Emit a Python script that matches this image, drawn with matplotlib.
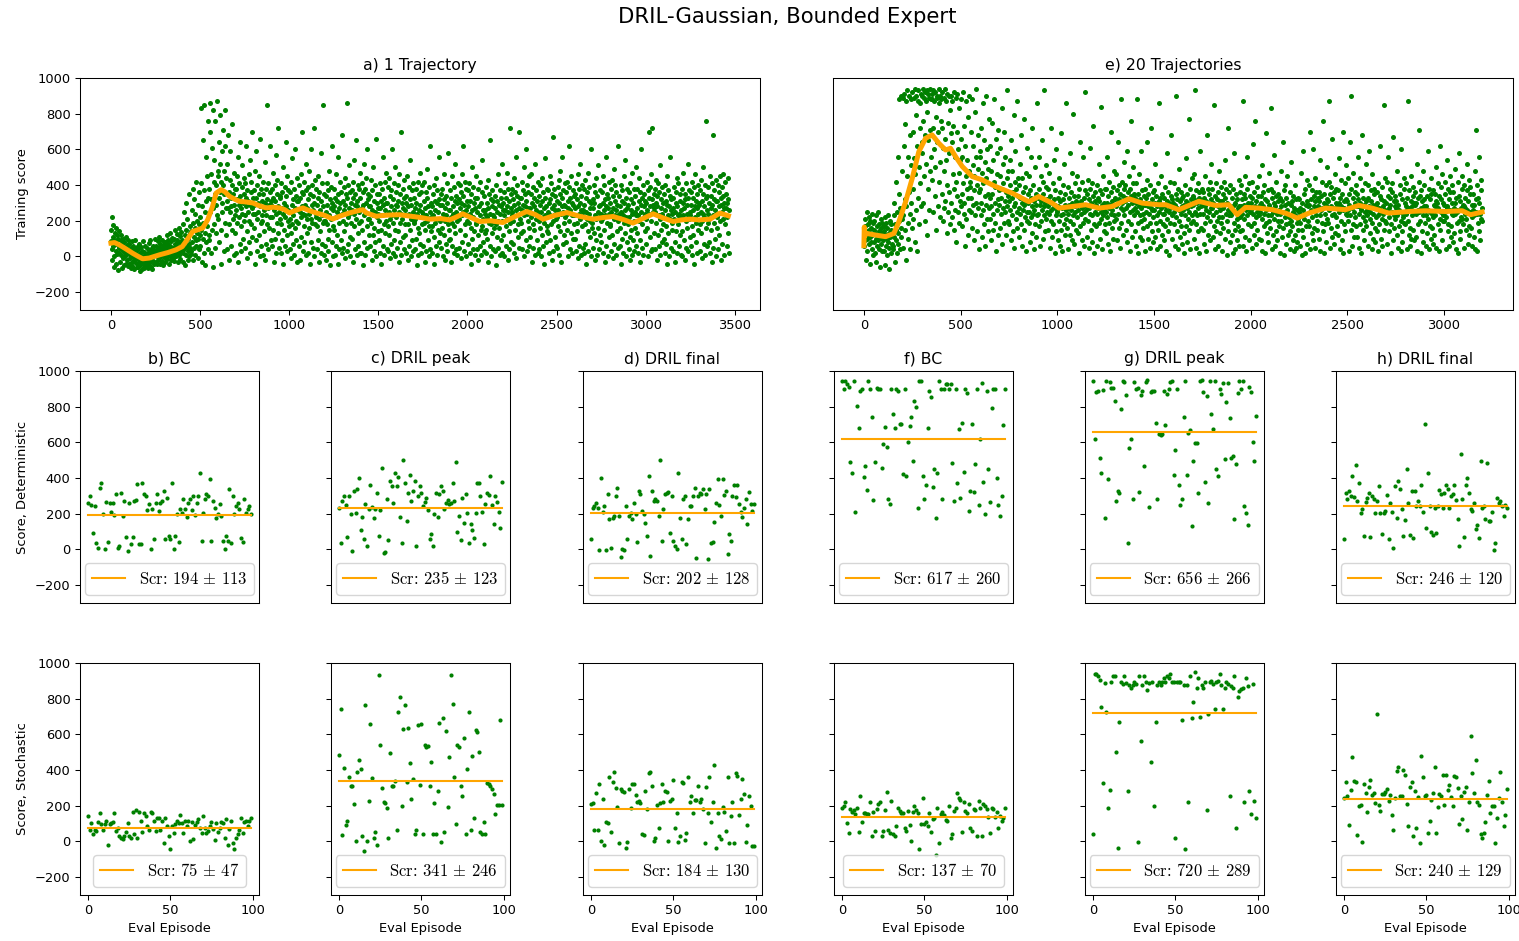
import numpy as np
import matplotlib
matplotlib.use("Agg")
import matplotlib.pyplot as plt

plt.rcParams["mathtext.fontset"] = "cm"
plt.rcParams["font.family"] = ["DejaVu Sans"]

SUPTITLE = "DRIL-Gaussian, Bounded Expert"
TRAIN_TITLES = ["a) 1 Trajectory", "e) 20 Trajectories"]
EVAL_TITLES = ["b) BC", "c) DRIL peak", "d) DRIL final", "f) BC", "g) DRIL peak", "h) DRIL final"]
TRAIN_YLABEL = "Training score"
DET_YLABEL = "Score, Deterministic"
STO_YLABEL = "Score, Stochastic"
EVAL_XLABEL = "Eval Episode"
TRAIN_XTICKS = [list(range(0, 3501, 500)), list(range(0, 3001, 500))]
EVAL_XTICKS = [0, 50, 100]
YTICKS = list(range(-200, 1001, 200))

LOG_EVERY = 2  # training score is logged every second episode

# training scores, 1 expert trajectory (one row = 50 episodes)
train_1traj = [
    85, 150, 40, 220, -20, 110, 60, 175, 5, 95, -60, 130, 70, 30, 160, -40, 90, 120, 15, 65, -75, 100, 45, 140, 20,
    60, -30, 95, 10, 120, -65, 35, 75, -10, 50, 100, -50, 25, 80, 0, 55, -40, 110, 30, -20, 65, 15, 90, -55, 40,
    20, -45, 70, -10, 35, -65, 50, 5, -30, 85, -55, 25, 0, 60, -20, 40, -70, 15, 95, -35, 30, -5, 55, -60, 10,
    -15, 40, -60, 10, -35, 70, -80, 20, -50, 5, 55, -25, -70, 30, -10, 85, -45, 0, -65, 25, -30, 60, -55, 15, -20,
    5, -40, 50, -65, 20, -15, 75, -50, 35, -30, 0, 90, -60, 25, -5, 45, -70, 10, 60, -25, 30, -45, 15, 100, -35,
    25, -30, 60, 0, 40, -45, 85, 15, -20, 50, 110, -10, 30, 70, -40, 20, 5, 95, -25, 45, 10, -50, 65, 35, -5,
    40, 5, 80, -30, 55, 20, 120, -15, 35, 70, 10, 95, -40, 45, 25, 130, 0, 60, -20, 85, 30, 15, 105, -10, 50,
    50, 15, 100, -25, 70, 35, 150, 0, 60, 90, 20, 125, -30, 45, 80, 160, 10, 55, 30, 115, -15, 75, 40, 135, 25,
    90, 20, 180, -30, 60, 250, 40, 120, -50, 80, 300, 10, 150, 55, 210, -20, 100, 30, 350, 70, 5, 170, 45, 130, 15,
    140, 30, 260, 80, 380, -20, 190, 110, 50, 320, 160, 10, 240, 90, 420, 60, 200, 130, -10, 290, 100, 180, 40, 360, 120,
    220, 60, 410, 150, 830, -30, 280, 100, 650, 190, 20, 370, 850, 130, 250, -50, 560, 310, 80, 450, 170, 760, 40, 330, 120,
    380, 90, 700, 250, 860, 20, 460, 320, 150, 610, 270, 820, -60, 420, 180, 540, 350, 50, 760, 290, 400, 130, 870, 230, 480,
    450, 210, 640, 330, 80, 790, 360, 520, 150, 420, -40, 590, 300, 250, 710, 400, 30, 480, 350, 620, 190, 820, 270, 440, 120,
    310, 40, 520, 270, 680, 180, 360, -20, 430, 250, 590, 330, 60, 280, 400, 150, 740, 210, 350, 10, 470, 290, 230, 380, 130,
    260, 380, 20, 450, 190, 320, 560, -30, 290, 220, 410, 70, 340, 640, 170, 270, 30, 390, 240, 510, 300, 100, 350, 200, 440,
    230, 410, 50, 330, 280, 620, 140, 370, -10, 250, 310, 460, 80, 200, 540, 290, 20, 360, 180, 420, 270, 700, 110, 330, 240,
    370, 160, 290, -40, 480, 240, 330, 90, 590, 210, 400, 30, 300, 250, 450, 120, 350, 660, 0, 280, 190, 380, 60, 310, 230,
    200, 350, 10, 420, 260, 140, 530, 300, -20, 380, 230, 70, 320, 850, 180, 270, 40, 410, 290, 160, 360, 620, 220, 90, 310,
    290, 60, 380, 220, 470, 150, 330, -30, 260, 400, 100, 310, 570, 240, 20, 350, 190, 430, 280, 130, 720, 250, 50, 340, 210,
    330, 180, 20, 410, 270, 90, 360, 240, 500, -40, 300, 150, 390, 220, 60, 640, 280, 340, 120, 30, 450, 260, 200, 370, 170,
    250, 40, 360, 210, 130, 420, -10, 290, 180, 550, 320, 70, 230, 380, 10, 270, 160, 600, 340, 90, 200, 310, -30, 440, 260,
    310, 190, 60, 400, 250, 330, -20, 460, 220, 110, 360, 280, 700, 30, 240, 350, 170, 420, 80, 290, 230, 520, 10, 370, 210,
    270, 130, 390, 20, 320, 240, 480, 160, -40, 350, 210, 600, 80, 290, 400, 190, 50, 340, 260, 720, 0, 300, 180, 430, 220,
    240, 380, 40, 290, 170, 450, 90, 330, 210, -30, 360, 260, 140, 580, 20, 310, 230, 410, 70, 280, 190, 850, 10, 350, 200,
    200, 60, 340, 250, -20, 410, 180, 290, 100, 370, 30, 230, 480, 150, 320, -50, 270, 210, 390, 80, 300, 620, 0, 260, 170,
    280, 150, 380, 10, 330, 220, 460, 60, 250, 310, 120, 560, -40, 350, 190, 270, 40, 420, 230, 300, 90, 360, 680, 20, 240,
    310, 200, 50, 390, 260, 140, 440, -10, 290, 350, 180, 860, 30, 330, 220, 400, 70, 270, 240, 510, 110, 360, 0, 300, 190,
    260, 370, 100, 330, -30, 420, 240, 170, 540, 290, 40, 350, 210, 650, 10, 310, 280, 130, 400, 60, 250, 380, 190, 470, 20,
    330, 200, 20, 410, 270, 150, 360, -50, 290, 520, 230, 80, 380, 250, 10, 440, 300, 170, 600, 50, 320, 210, 350, 120, 280,
    210, 340, 60, 280, 190, 430, -20, 260, 370, 120, 230, 500, 30, 310, 160, 400, 80, 250, 660, 0, 300, 220, 350, 140, 270,
    240, 90, 350, 200, 20, 410, 270, 150, 310, -40, 380, 230, 560, 60, 290, 180, 330, 10, 260, 420, 130, 300, 200, 470, 40,
    300, 170, 30, 390, 250, 120, 440, 210, -10, 340, 280, 70, 370, 230, 600, 20, 320, 190, 410, 90, 260, 150, 500, 0, 290,
    220, 360, 50, 280, 400, 140, 310, -30, 250, 460, 190, 80, 350, 240, 700, 10, 300, 210, 380, 110, 270, 330, 40, 430, 180,
    260, 120, 340, 20, 300, 230, 450, -20, 280, 180, 390, 60, 240, 320, 150, 540, 0, 290, 210, 370, 90, 250, 410, 30, 200,
    190, 330, 40, 270, 210, 380, 100, 300, -50, 240, 420, 160, 10, 350, 260, 130, 470, 70, 290, 220, 360, 20, 250, 180, 400,
    240, 60, 310, 190, 420, -30, 270, 150, 360, 230, 30, 490, 200, 330, 90, 280, 0, 390, 170, 250, 620, 40, 300, 140, 220,
    280, 170, 20, 350, 230, 110, 400, -40, 260, 310, 190, 60, 440, 210, 300, 10, 370, 150, 250, 560, 80, 320, 200, 130, 290,
    210, 350, 50, 290, 160, 380, 0, 240, 320, 120, 460, -20, 270, 200, 340, 70, 230, 410, 30, 300, 180, 580, 90, 260, 150,
    260, 100, 370, 220, -30, 330, 190, 450, 60, 280, 240, 20, 390, 170, 310, 130, 520, 40, 250, 340, 200, 10, 300, 230, 410,
    320, 210, 50, 400, 270, 150, 360, -10, 300, 460, 230, 80, 340, 250, 620, 30, 290, 180, 420, 120, 380, 260, 0, 310, 200,
    230, 370, 70, 280, 190, 410, 20, 310, 240, -40, 350, 160, 500, 100, 260, 220, 390, 40, 300, 140, 330, 10, 270, 450, 180,
    190, 40, 330, 250, 120, 380, -20, 280, 200, 60, 420, 230, 150, 300, 10, 360, 170, 540, 80, 260, 210, 340, 30, 240, 130,
    260, 150, 390, 20, 300, 220, 100, 430, -30, 270, 190, 350, 60, 240, 650, 0, 320, 180, 280, 130, 370, 40, 230, 310, 160,
    220, 340, 30, 270, 180, 400, -50, 250, 310, 110, 200, 460, 50, 290, 160, 370, 10, 240, 330, 90, 280, 200, 520, 20, 260,
    300, 120, 360, 230, 0, 410, 260, 170, 330, 60, 280, 210, 470, -20, 250, 380, 140, 310, 40, 720, 190, 270, 350, 80, 230,
    250, 380, 70, 320, 200, 440, 20, 290, 360, 150, 260, 560, -10, 340, 230, 400, 110, 300, 180, 700, 50, 270, 330, 210, 130,
    330, 190, 420, 260, 40, 370, 290, 140, 500, 230, 0, 350, 280, 600, 90, 310, 240, 400, 30, 270, 360, 200, 160, 450, 60,
    270, 110, 350, 220, 460, -30, 300, 240, 180, 390, 50, 280, 330, 150, 520, 10, 260, 210, 370, 90, 310, 230, 420, 20, 250,
    200, 340, 40, 290, 160, 400, 0, 250, 310, 120, 440, 220, 60, 360, 190, 270, -40, 330, 230, 550, 80, 280, 170, 380, 140,
    250, 130, 370, 20, 300, 240, 450, 90, 320, 180, 410, -20, 270, 350, 200, 670, 30, 290, 230, 380, 110, 260, 340, 60, 210,
    310, 220, 50, 390, 260, 170, 430, 10, 300, 350, 140, 480, 240, -30, 330, 280, 560, 70, 250, 370, 190, 290, 120, 410, 220,
    280, 360, 80, 240, 420, 150, 310, 0, 270, 390, 200, 620, 40, 330, 260, 130, 450, 20, 300, 230, 370, 100, 290, 340, 180,
    230, 100, 350, 270, 30, 410, 190, 320, 140, 460, -10, 280, 240, 380, 60, 300, 210, 520, 10, 260, 340, 170, 400, 50, 250,
    260, 380, 20, 290, 180, 430, 70, 250, 330, -40, 360, 210, 140, 470, 30, 310, 240, 390, 110, 270, 200, 600, 0, 300, 160,
    190, 320, 50, 270, 400, 130, 300, -20, 230, 360, 90, 440, 210, 10, 340, 250, 160, 510, 40, 280, 220, 370, 120, 290, 200,
    240, 80, 360, 210, 450, 20, 300, 260, 150, 400, -30, 320, 230, 560, 60, 280, 190, 350, 0, 270, 330, 110, 420, 240, 170,
    300, 180, 30, 380, 250, 120, 430, 270, -10, 340, 210, 490, 70, 310, 230, 400, 10, 260, 360, 140, 290, 200, 620, 50, 240,
    210, 340, 60, 280, 160, 400, -40, 250, 310, 100, 370, 230, 20, 450, 190, 300, 130, 260, 540, 0, 330, 220, 380, 80, 270,
    180, 290, 40, 360, 220, 110, 410, -20, 260, 320, 150, 470, 10, 240, 300, 90, 380, 200, 30, 340, 250, 160, 500, 60, 230,
    270, 130, 380, 230, 20, 440, 200, 310, 90, 360, -30, 290, 250, 600, 50, 330, 180, 400, 10, 280, 220, 350, 140, 310, 240,
    300, 210, 70, 420, 260, 160, 370, 0, 330, 700, 240, 110, 390, 280, 30, 460, 200, 320, 720, 40, 290, 250, 350, 130, 270,
    250, 380, 40, 300, 190, 430, -20, 280, 340, 120, 410, 230, 60, 360, 210, 510, 10, 270, 320, 150, 390, 80, 240, 300, 180,
    220, 100, 350, 260, 20, 400, 170, 310, 70, 450, -40, 290, 230, 370, 130, 280, 0, 340, 210, 560, 50, 260, 320, 150, 240,
    190, 330, 30, 270, 210, 390, 80, 250, -30, 300, 360, 140, 440, 20, 280, 230, 180, 410, 60, 240, 310, 120, 350, 10, 220,
    260, 140, 380, 0, 300, 230, 470, 90, 270, 350, -20, 320, 200, 410, 50, 290, 240, 160, 520, 30, 330, 210, 370, 110, 250,
    230, 360, 60, 290, 170, 420, 10, 260, 330, 120, 390, -40, 280, 220, 460, 80, 310, 190, 350, 20, 270, 400, 150, 240, 300,
    290, 180, 30, 370, 250, 130, 430, 200, 310, -10, 350, 240, 500, 70, 280, 220, 400, 10, 330, 160, 760, 60, 260, 340, 190,
    240, 390, 80, 300, 210, 450, 20, 270, 340, 150, 410, -30, 290, 230, 680, 50, 320, 190, 370, 100, 260, 310, 0, 430, 220,
    310, 160, 400, 240, 40, 360, 280, 120, 450, 200, 330, -20, 290, 250, 390, 70, 340, 210, 460, 10, 300, 270, 180, 420, 230,
    270, 350, 60, 300, 220, 440, 130, 320, 20, 260,
]

# training scores, 20 expert trajectories (one row = 50 episodes)
train_20traj = [
    130, 60, 210, 90, 170, -20, 140, 250, 100, 30, 180, 120, 220, 70, 150, -40, 110, 200, 80, 160, 40, 240, 120, 10, 190,
    150, 80, 200, 20, 130, 230, 100, -30, 170, 60, 120, 250, 90, 40, 180, 140, -60, 110, 210, 70, 160, 30, 130, 190, 100,
    90, 170, 30, 140, 220, -50, 120, 60, 190, 100, 10, 160, 230, 80, -70, 130, 50, 200, 110, 150, 20, 180, 70, 120, 40,
    140, 60, 230, 110, 300, -30, 180, 90, 420, 150, 20, 250, 560, 130, 70, 350, 200, 880, 40, 270, 160, 900, 110, 480, 210,
    890, 230, 50, 620, 910, 320, 150, 740, 280, 870, -20, 450, 930, 190, 560, 100, 900, 360, 680, 240, 40, 880, 510, 300, 160,
    920, 380, 700, 210, 890, 550, 80, 940, 460, 790, 260, 900, 620, 30, 870, 330, 930, 500, 180, 860, 720, 410, 910, 280, 640,
    900, 580, 940, 300, 760, 890, 450, 920, 200, 680, 870, 520, 930, 120, 810, 910, 380, 650, 890, 260, 940, 710, 480, 880, 560,
    910, 430, 880, 720, 250, 930, 600, 870, 340, 920, 500, 780, 150, 900, 640, 890, 280, 700, 940, 420, 860, 530, 900, 220, 760,
    880, 350, 720, 920, 200, 610, 890, 480, 270, 940, 660, 310, 870, 540, 130, 910, 400, 750, 250, 900, 580, 360, 820, 180, 690,
    900, 300, 640, 220, 870, 460, 730, 150, 920, 380, 560, 260, 890, 420, 80, 700, 340, 910, 250, 600, 470, 190, 830, 310, 540,
    660, 280, 880, 350, 170, 560, 410, 920, 240, 730, 300, 60, 620, 450, 870, 210, 380, 540, 120, 780, 330, 480, 260, 900, 390,
    420, 250, 700, 330, 880, 160, 510, 290, 620, 90, 450, 370, 810, 230, 560, 300, 940, 140, 400, 680, 270, 490, 40, 360, 590,
    380, 560, 230, 720, 300, 110, 470, 860, 260, 410, 650, 180, 340, 530, 60, 900, 290, 440, 210, 600, 350, 140, 490, 770, 270,
    330, 210, 620, 280, 480, 90, 750, 350, 240, 540, 150, 420, 880, 300, 190, 390, 660, 30, 460, 260, 580, 320, 120, 710, 370,
    290, 450, 160, 610, 330, 240, 830, 380, 70, 520, 270, 410, 190, 700, 310, 250, 560, 120, 360, 930, 280, 440, 200, 340, 480,
    310, 180, 540, 260, 400, 90, 650, 330, 230, 480, 140, 360, 790, 280, 50, 420, 300, 590, 210, 380, 250, 870, 160, 340, 440,
    270, 400, 110, 330, 520, 240, 180, 680, 300, 60, 440, 260, 360, 150, 770, 290, 220, 390, 30, 470, 310, 200, 610, 250, 350,
    300, 190, 450, 250, 80, 370, 560, 220, 330, 130, 280, 720, 240, 400, 40, 310, 260, 180, 500, 350, 110, 290, 860, 230, 340,
    330, 240, 560, 170, 380, 290, 60, 450, 310, 200, 650, 260, 350, 100, 420, 280, 930, 230, 300, 140, 390, 510, 210, 320, 250,
    280, 380, 150, 310, 240, 470, 50, 340, 260, 720, 200, 300, 110, 410, 270, 180, 540, 320, 20, 290, 370, 230, 600, 140, 260,
    250, 330, 90, 280, 440, 200, 310, 60, 360, 230, 150, 690, 270, 30, 400, 240, 320, 180, 520, 290, 120, 350, 210, 860, 260,
    270, 160, 390, 240, 40, 330, 290, 580, 200, 120, 360, 260, 470, 90, 300, 230, 800, 180, 340, 70, 280, 410, 250, 150, 310,
    300, 220, 450, 130, 340, 260, 20, 380, 290, 640, 170, 310, 240, 90, 420, 270, 190, 560, 330, 60, 250, 370, 210, 920, 280,
    260, 350, 110, 290, 430, 200, 320, 50, 270, 610, 240, 380, 150, 300, 80, 410, 230, 340, 730, 180, 280, 20, 360, 250, 310,
    290, 170, 400, 240, 60, 330, 270, 520, 190, 310, 100, 370, 250, 840, 210, 290, 40, 350, 230, 450, 140, 300, 260, 180, 380,
    250, 380, 130, 300, 220, 560, 70, 340, 270, 190, 420, 290, 30, 360, 240, 700, 160, 310, 260, 100, 390, 230, 480, 200, 320,
    330, 210, 460, 280, 90, 370, 300, 640, 240, 160, 400, 320, 50, 350, 270, 880, 190, 300, 420, 120, 340, 260, 530, 230, 380,
    310, 400, 150, 330, 270, 590, 80, 360, 290, 200, 450, 320, 30, 380, 250, 760, 180, 340, 300, 110, 410, 260, 500, 230, 350,
    330, 140, 270, 410, 60, 300, 880, 250, 190, 350, 20, 280, 460, 230, 110, 320, 270, 590, 200, 370, 90, 290, 240, 160, 340,
    210, 380, 290, 30, 330, 250, 170, 430, 640, 280, 100, 350, 240, 300, 50, 400, 190, 270, 720, 320, 140, 260, 360, 220, 80,
    370, 260, 110, 300, 520, 190, 340, 40, 280, 230, 410, 150, 310, 860, 250, 60, 330, 200, 270, 450, 120, 290, 350, 180, 240,
    240, 90, 330, 280, 170, 390, 30, 260, 310, 580, 210, 360, 140, 300, 250, 10, 420, 270, 190, 340, 680, 230, 100, 320, 280,
    300, 180, 410, 250, 60, 290, 350, 220, 900, 140, 320, 270, 40, 380, 200, 260, 490, 110, 310, 240, 170, 360, 70, 280, 330,
    260, 340, 130, 290, 20, 400, 230, 310, 170, 550, 270, 80, 350, 210, 300, 770, 150, 250, 380, 40, 320, 190, 280, 440, 230,
    340, 200, 290, 460, 100, 320, 250, 930, 180, 370, 50, 300, 230, 410, 140, 270, 330, 20, 360, 240, 590, 160, 310, 280, 380,
    290, 150, 360, 240, 70, 330, 280, 190, 450, 30, 310, 260, 680, 220, 380, 120, 300, 250, 350, 90, 420, 200, 270, 520, 320,
    270, 380, 110, 300, 230, 850, 170, 340, 40, 290, 250, 410, 140, 320, 200, 60, 360, 280, 480, 220, 310, 130, 260, 390, 190,
    310, 220, 30, 350, 270, 160, 420, 290, 540, 100, 330, 240, 380, 10, 300, 200, 720, 260, 140, 360, 230, 80, 400, 280, 250,
    230, 120, 330, 260, 20, 380, 190, 290, 580, 150, 300, 40, 250, 350, 210, 90, 320, 270, 170, 430, 60, 280, 220, 360, 140,
    280, 400, 150, 320, 240, 870, 60, 350, 210, 290, 450, 110, 330, 260, 30, 380, 230, 560, 180, 300, 270, 90, 410, 250, 340,
    300, 170, 260, 420, 50, 330, 240, 630, 190, 360, 120, 280, 760, 220, 310, 70, 390, 250, 150, 340, 270, 100, 450, 230, 290,
    250, 340, 90, 300, 210, 510, 30, 280, 360, 170, 240, 400, 20, 320, 190, 690, 260, 130, 310, 80, 370, 230, 470, 200, 290,
    270, 160, 380, 230, 830, 40, 330, 250, 120, 360, 210, 570, 300, 60, 280, 420, 140, 340, 240, 90, 310, 200, 350, 170, 260,
    240, 330, 20, 280, 200, 480, 110, 310, 250, 640, 160, 370, 10, 290, 220, 400, 70, 330, 180, 260, 450, 120, 300, 230, 190,
    220, 140, 360, 40, 290, 200, 530, 170, 310, 90, 250, 340, 30, 270, 120, 400, 230, 50, 320, 190, 260, 80, 330, 210, 150,
    250, 320, 60, 270, 190, 470, 230, 10, 300, 150, 590, 260, 110, 350, 210, 20, 380, 240, 170, 290, 430, 70, 310, 200, 280,
    290, 170, 400, 250, 700, 40, 320, 260, 130, 370, 220, 600, 90, 340, 280, 160, 440, 50, 310, 230, 360, 150, 270, 200, 330,
    280, 360, 100, 310, 230, 540, 30, 260, 340, 190, 420, 270, 760, 140, 300, 20, 350, 240, 180, 400, 80, 290, 500, 210, 320,
    310, 190, 420, 870, 260, 50, 350, 280, 160, 390, 230, 660, 110, 330, 270, 70, 360, 240, 460, 130, 300, 220, 380, 170, 290,
    290, 370, 120, 300, 250, 550, 40, 330, 200, 280, 430, 90, 350, 20, 260, 700, 310, 180, 270, 410, 140, 240, 510, 320, 230,
    310, 200, 440, 260, 30, 350, 290, 640, 230, 150, 380, 900, 270, 60, 330, 180, 470, 250, 110, 360, 300, 220, 400, 170, 280,
    350, 110, 280, 560, 320, 240, 50, 180, 300, 440, 270, 20, 260, 370, 680, 220, 330, 150, 90, 290, 250, 410, 200, 520, 310,
    170, 260, 230, 400, 330, 60, 590, 280, 130, 210, 250, 370, 310, 40, 460, 190, 100, 290, 240, 350, 380, 160, 270, 80, 220,
    290, 360, 140, 300, 230, 30, 410, 270, 180, 340, 620, 250, 100, 320, 210, 390, 60, 280, 240, 850, 150, 310, 260, 440, 200,
    190, 300, 70, 420, 250, 560, 340, 270, 140, 220, 290, 380, 330, 20, 180, 250, 410, 360, 90, 670, 230, 310, 160, 210, 280,
    340, 270, 310, 120, 480, 230, 290, 50, 170, 250, 260, 400, 350, 30, 600, 200, 140, 320, 80, 240, 220, 380, 190, 440, 300,
    180, 280, 240, 410, 330, 40, 260, 200, 870, 120, 270, 370, 60, 160, 310, 450, 100, 280, 230, 340, 390, 150, 300, 90, 250,
    290, 360, 110, 300, 240, 520, 30, 330, 260, 180, 420, 250, 710, 340, 200, 20, 370, 270, 140, 310, 230, 480, 80, 280, 320,
    400, 270, 190, 60, 230, 280, 340, 130, 590, 210, 260, 40, 380, 170, 320, 250, 440, 350, 100, 160, 240, 70, 370, 220, 290,
    120, 280, 350, 230, 310, 50, 500, 260, 300, 410, 180, 270, 340, 30, 210, 150, 620, 250, 320, 390, 90, 460, 230, 300, 200,
    200, 290, 250, 420, 350, 40, 220, 270, 540, 280, 140, 380, 180, 60, 320, 260, 450, 360, 110, 170, 240, 300, 400, 80, 230,
    360, 130, 270, 240, 490, 300, 330, 40, 190, 260, 250, 420, 20, 340, 580, 200, 310, 140, 100, 270, 220, 380, 210, 450, 290,
    180, 400, 280, 50, 240, 270, 330, 150, 210, 520, 260, 370, 70, 310, 430, 170, 120, 250, 350, 390, 230, 160, 290, 60, 220,
    260, 350, 110, 290, 230, 480, 40, 320, 250, 710, 400, 240, 30, 330, 190, 560, 140, 300, 240, 90, 370, 210, 430, 200, 270,
]

# running average of the training score
avg_1traj_ep = [0, 20, 47, 80, 122, 150, 178, 215, 272, 320, 365, 400, 421, 459, 515, 543, 570, 590, 618, 640,
                665, 700, 721, 760, 796, 830, 871, 910, 946, 975, 1002, 1040, 1077, 1110, 1152, 1200, 1245, 1290,
                1339, 1380, 1414, 1433, 1489, 1507, 1560, 1620, 1693, 1740, 1788, 1850, 1900, 1940, 1974, 2020,
                2069, 2130, 2199, 2270, 2333, 2380, 2424, 2490, 2558, 2630, 2704, 2760, 2817, 2880, 2929, 2990,
                3042, 3100, 3154, 3200, 3249, 3300, 3361, 3417, 3464]
avg_1traj = [75, 78, 65, 45, 18, 2, -13, -9, 9, 22, 37, 55, 84, 140, 159, 206, 280, 355, 374, 362,
             337, 318, 309, 305, 300, 285, 272, 276, 272, 262, 244, 260, 272, 258, 244, 230, 210, 228,
             244, 255, 262, 244, 225, 228, 232, 234, 224, 218, 209, 212, 205, 222, 239, 218,
             196, 200, 190, 225, 252, 235, 209, 230, 246, 225, 209, 218, 224, 205, 187, 215,
             239, 215, 196, 205, 209, 205, 209, 243, 228]

avg_20traj_ep = [0, 2, 5, 10, 60, 112, 155, 181, 216, 250, 284, 319, 353, 388, 422, 448, 474, 509, 560, 612,
                 681, 767, 853, 905, 974, 1009, 1078, 1147, 1216, 1284, 1371, 1440, 1492, 1526, 1561, 1629,
                 1733, 1819, 1888, 1931, 1974, 2043, 2112, 2181, 2242, 2302, 2388, 2491, 2560, 2629, 2715,
                 2819, 2905, 3009, 3095, 3138, 3198]
avg_20traj = [60, 165, 115, 130, 120, 111, 129, 195, 307, 438, 587, 662, 681, 634, 597, 606, 560, 504, 448, 429,
              392, 355, 307, 336, 299, 271, 280, 290, 271, 280, 323, 299, 293, 290, 290, 262,
              309, 286, 290, 234, 275, 271, 262, 243, 215, 243, 271, 262, 286, 271, 243,
              252, 256, 252, 256, 234, 249]

# evaluation episodes, deterministic policy
det_bc_1 = [258, 299, 249, 90, 243, 34, 9, 346, 370, 196, 4, 267, 41, 262, 209, 262, 192, 308, 9, 19,
            314, 187, 271, 71, -9, 262, 28, 71, 271, 275, 368, 32, 28, 374, 308, 299, 221, 252, 4, 224,
            60, 262, 308, 215, 262, 271, 327, 56, 286, 75, 56, 374, 4, 75, 196, 43, 224, 206, 280, 224,
            183, 262, 280, 221, 299, 192, 262, 299, 426, 47, 206, 280, 308, 299, 393, 47, 271, 234, 178, 196,
            252, 190, 47, 0, 75, 47, 336, 37, 299, 196, 243, 262, 224, 65, 43, 280, 206, 224, 243, 200]
det_peak_1 = [234, 34, 271, 299, 247, 71, 299, 196, -9, 327, 206, 340, 402, 108, 183, 60, 252, 22, 228, 359,
              240, 178, 224, 318, 75, 221, 458, -19, -15, 284, 52, 383, 355, 262, 430, 355, 407, 183, 34, 501,
              370, 159, 318, 415, 271, 330, 383, 19, 299, 355, 318, 243, 265, 290, 221, 56, 84, 19, 196, 318,
              180, 308, 355, 327, 224, 262, 277, 252, 262, 374, 271, 490, 99, 187, 52, 290, 150, 308, 206, 34,
              144, 108, 65, 206, 374, 370, 299, 209, 28, 252, 318, 303, 411, 247, 140, 299, 265, 210, 120, 378]
det_final_1 = [60, 234, 243, 262, 234, -4, 402, 209, 243, -4, 308, 168, 9, 178, 187, 299, 346, 187, -41, 0,
               -4, 243, 60, 190, 206, 168, 262, 196, 41, 327, 308, 215, 196, 150, 75, 411, -37, 327, 271, 284,
               271, 187, 501, 47, 224, 308, 314, 321, 90, 299, 47, 19, 0, 426, 178, 56, 280, 299, 28, 168,
               243, 243, 299, 346, -47, 299, 314, 308, 336, 224, 308, -56, 340, 37, 41, 153, 262, 393, 247, 187,
               393, 305, 327, -28, 84, 47, 299, 359, 295, 359, 252, 209, 180, 230, 280, 140, 320, 252, 215, 252]
det_bc_20 = [944, 897, 944, 925, 910, 490, 430, 944, 209, 804, 682, 888, 901, 407, 467, 333, 944, 897, 744, 275,
             490, 906, 897, 897, 458, 589, 688, 576, 280, 252, 897, 757, 682, 897, 888, 701, 701, 421, 901, 411,
             602, 692, 744, 495, 832, 798, 234, 944, 944, 411, 280, 364, 682, 888, 856, 351, 449, 178, 430, 944,
             901, 280, 901, 925, 925, 901, 925, 486, 271, 897, 374, 673, 290, 710, 434, 897, 875, 215, 327, 705,
             320, 480, 900, 250, 620, 930, 380, 200, 890, 450, 265, 794, 897, 897, 402, 249, 190, 300, 700, 897]
det_peak_20 = [944, 621, 882, 888, 514, 430, 893, 178, 944, 393, 938, 906, 906, 832, 271, 327, 318, 789, 944, 938,
               864, 34, 570, 617, 284, 938, 901, 906, 321, 864, 888, 467, 938, 950, 237, 884, 888, 888, 710, 284,
               645, 639, 645, 888, 695, 869, 897, 938, 944, 415, 557, 897, 364, 249, 280, 744, 944, 415, 650, 669,
               131, 495, 594, 594, 314, 944, 950, 882, 378, 860, 262, 944, 757, 677, 944, 449, 411, 901, 869, 934,
               508, 826, 934, 738, 514, 523, 172, 477, 875, 944, 901, 944, 243, 206, 135, 910, 882, 600, 495, 748]
det_final_20 = [60, 314, 284, 327, 299, 411, 295, 471, 271, 374, 202, 224, 75, 265, 290, 318, 71, 299, 284, 206,
                271, 355, 206, 84, 206, 215, 303, 60, 262, 209, 9, 355, 178, 383, 340, 224, 75, 164, 449, 262,
                79, 327, 65, 327, 243, 271, 243, 361, 209, 701, 121, 426, 243, 97, 79, 234, 93, 243, 333, 308,
                234, 314, 364, 336, 234, 299, 308, 359, 277, 168, 22, 533, 280, 71, 364, 402, 318, 224, 215, 262,
                116, 135, 65, 495, 234, 243, 168, 482, 159, 159, 209, -4, 37, 290, 262, 271, 243, 187, 250, 234]

# evaluation episodes, stochastic policy
sto_bc_1 = [143, 65, 103, 41, 65, 59, 110, 162, 97, 65, 97, 116, -21, 97, 103, 110, 159, 59, 78, 32,
            17, 13, 28, 54, 106, 32, 22, 166, 41, 176, 17, 166, 116, 54, 157, 143, 84, 65, 166, 162,
            116, 59, 134, 134, 65, 116, -10, 134, 88, 32, -43, 88, 47, 97, 116, 106, 148, 106, 50, 116,
            84, 116, 4, 110, 13, 91, 110, 125, 78, 50, 143, 78, 50, 59, 88, 110, 69, 9, 106, 54,
            78, 110, 106, 17, 125, -21, 69, 116, -10, -43, 17, 41, 65, 129, 50, 110, 116, 88, 116, 129]
sto_peak_1 = [484, 742, 35, 409, 91, 116, 364, 312, 308, 209, 4, 391, 458, 405, 28, -53, 765, 4, 228, 658,
              353, 22, 54, -21, 933, 540, 297, 222, 215, 187, 22, 497, 308, 312, 336, 65, 727, 808, 200, 630,
              765, 331, 634, 439, 237, 350, 41, 65, 652, 316, 658, 41, 540, 532, 536, 312, 447, 41, 215, 41,
              284, 663, -2, 690, 54, 620, 191, 471, 933, 770, 364, 97, 540, 532, 308, 256, 578, 41, 405, 727,
              65, 477, 134, 626, 615, 499, 54, 41, 110, 41, 327, 321, 312, 293, 265, 153, 204, 204, 682, 204]
sto_final_1 = [209, 215, 65, 271, 65, 321, 4, 237, -21, 110, 106, 364, 54, 334, 387, 297, 191, -10, 293, 284,
               278, -34, -2, 293, 185, 321, 321, 260, 222, 228, 215, 41, 35, 284, 182, 383, 391, 312, 4, 17,
               204, 73, 215, 321, 222, 284, 278, 4, 228, 237, 345, 78, 159, -2, 32, 334, 327, 9, 50, 364,
               222, 252, 162, 234, 232, 312, 222, 237, 182, -10, 303, 159, 364, 110, 222, 428, -34, 159, 28, 13,
               191, 166, 60, 359, -10, 140, 219, -10, 383, 368, 150, 240, 350, 265, -2, 91, 256, 200, -28, -28]
sto_bc_20 = [190, 200, 219, 103, 50, 181, 166, 177, 153, 185, 54, 256, 110, 162, 159, 153, 153, 222, 28, 166,
             59, 181, 209, 219, 28, 59, 177, 275, 65, 50, 228, 41, 32, 88, 185, 172, 162, 162, 78, 59,
             172, 91, 4, 166, 196, 177, 159, -43, 97, 241, 97, 110, 84, 162, 54, 125, 129, -77, 190, -10,
             153, 166, 148, 121, 116, 200, 17, 41, 172, 190, 271, 241, 234, 54, 219, 172, 159, 209, 73, 59,
             181, 177, 32, 228, 190, 28, 209, 196, 181, 138, 50, 190, 181, 138, 166, 78, 143, 116, 130, 185]
sto_peak_20 = [41, 938, 938, 929, 906, 751, 327, 888, 727, 185, 290, 895, 925, 925, 503, -34, 667, 892, 882, 929,
               888, 284, 877, 858, 877, 895, 882, -2, 929, 564, 877, 925, 895, 851, 888, 447, 895, 200, 667, 877,
               892, 877, 895, 914, 892, 925, 914, 938, 895, 892, 22, 892, 892, 892, 682, 877, -40, 877, 223, 925,
               690, 780, 951, 862, 914, 695, 877, 858, 892, 177, 714, 895, 901, 882, 742, 892, 901, 938, 877, 742,
               858, 895, 882, 252, 873, 862, 925, 73, 807, 845, 854, 858, 223, 914, 873, 284, 153, 880, 228, 129]
sto_final_20 = [241, 334, 252, 91, 290, 471, 340, 331, 35, 200, 204, -2, 321, 271, 166, 303, 345, 260, 271, 215,
                714, 204, 172, 265, 265, 278, 293, 228, 260, 148, 65, 241, 396, 415, 256, 252, 402, 372, 209, 84,
                303, 331, 32, 284, 73, 247, -10, 477, 359, 256, 260, 50, 116, 234, 271, 415, 50, 191, 265, 256,
                372, 204, 372, 290, 316, 247, 200, 368, 359, 297, 97, 252, 125, 275, 303, 65, 222, 589, 383, 271,
                458, 222, 204, 41, 22, 50, 110, 260, 340, 162, 200, 200, -6, 129, 241, 391, 222, 88, 148, 293]

det_mean = [194, 235, 202, 617, 656, 246]
det_std = [113, 123, 128, 260, 266, 120]
sto_mean = [75, 341, 184, 137, 720, 240]
sto_std = [47, 246, 130, 70, 289, 129]

det_runs = [det_bc_1, det_peak_1, det_final_1, det_bc_20, det_peak_20, det_final_20]
sto_runs = [sto_bc_1, sto_peak_1, sto_final_1, sto_bc_20, sto_peak_20, sto_final_20]

# ---------------------------------------------------------------- drawing
W, H = 1519, 941
fig = plt.figure(figsize=(W / 100, H / 100), dpi=100)

FS_TICK = 9.4
FS_TITLE = 11.3
DOT_GREEN = "green"
AVG_ORANGE = "orange"


def add_px_axes(left, top, right, bottom):
    return fig.add_axes([left / W, 1 - bottom / H, (right - left) / W, (bottom - top) / H])


def style(ax):
    ax.tick_params(labelsize=FS_TICK, length=3.3, width=0.75)
    for sp in ax.spines.values():
        sp.set_linewidth(0.75)
    ax.set_ylim(-300, 1000)
    ax.set_yticks(YTICKS)


fig.text(787 / W, 1 - 17 / H, SUPTITLE, ha="center", va="center", fontsize=15.3)

train_sets = [(train_1traj, avg_1traj_ep, avg_1traj), (train_20traj, avg_20traj_ep, avg_20traj)]
train_boxes = [(80, 78, 760, 310), (833, 78, 1513, 310)]
for i, ((scores, aep, aval), box) in enumerate(zip(train_sets, train_boxes)):
    ax = add_px_axes(*box)
    ep = np.arange(len(scores)) * LOG_EVERY
    ax.scatter(ep, scores, s=13, color=DOT_GREEN, linewidths=0, zorder=2)
    ax.plot(aep, aval, color=AVG_ORANGE, lw=3.6, zorder=3)
    style(ax)
    ax.set_xticks(TRAIN_XTICKS[i])
    ax.set_title(TRAIN_TITLES[i], fontsize=FS_TITLE, pad=5.6)
    if i == 0:
        ax.set_ylabel(TRAIN_YLABEL, fontsize=FS_TICK)
        ax.yaxis.set_label_coords((29 - 80) / 680, 0.5)
    else:
        ax.tick_params(left=False, labelleft=False)

eval_lefts = [80, 331, 583, 834, 1085, 1336]
rows = [(371, 603, det_runs, det_mean, det_std, DET_YLABEL),
        (663, 895, sto_runs, sto_mean, sto_std, STO_YLABEL)]
for r, (top, bottom, runs, means, stds, ylabel) in enumerate(rows):
    for c, left in enumerate(eval_lefts):
        ax = add_px_axes(left, top, left + 179, bottom)
        vals = runs[c]
        ax.scatter(np.arange(len(vals)), vals, s=9, color=DOT_GREEN, linewidths=0, zorder=2)
        m, sd = means[c], stds[c]
        ax.plot([0, 99], [m, m], color=AVG_ORANGE, lw=1.5, zorder=3,
                label=r"$\mathrm{Scr}\!:\,%d\,\pm\,%d$" % (m, sd))
        style(ax)
        ax.set_xlim(-4.95, 103.95)
        ax.legend(loc="lower center", fontsize=12, handlelength=2.0)
        if c > 0:
            ax.tick_params(labelleft=False)
        else:
            ax.set_ylabel(ylabel, fontsize=FS_TICK)
            ax.yaxis.set_label_coords((29 - 80) / 179, 0.5)
        if r == 0:
            ax.set_title(EVAL_TITLES[c], fontsize=FS_TITLE, pad=5.6)
            ax.tick_params(bottom=False, labelbottom=False)
        else:
            ax.set_xticks(EVAL_XTICKS)
            ax.set_xlabel(EVAL_XLABEL, fontsize=FS_TICK, labelpad=3.5)

fig.savefig("out.png", dpi=100)
